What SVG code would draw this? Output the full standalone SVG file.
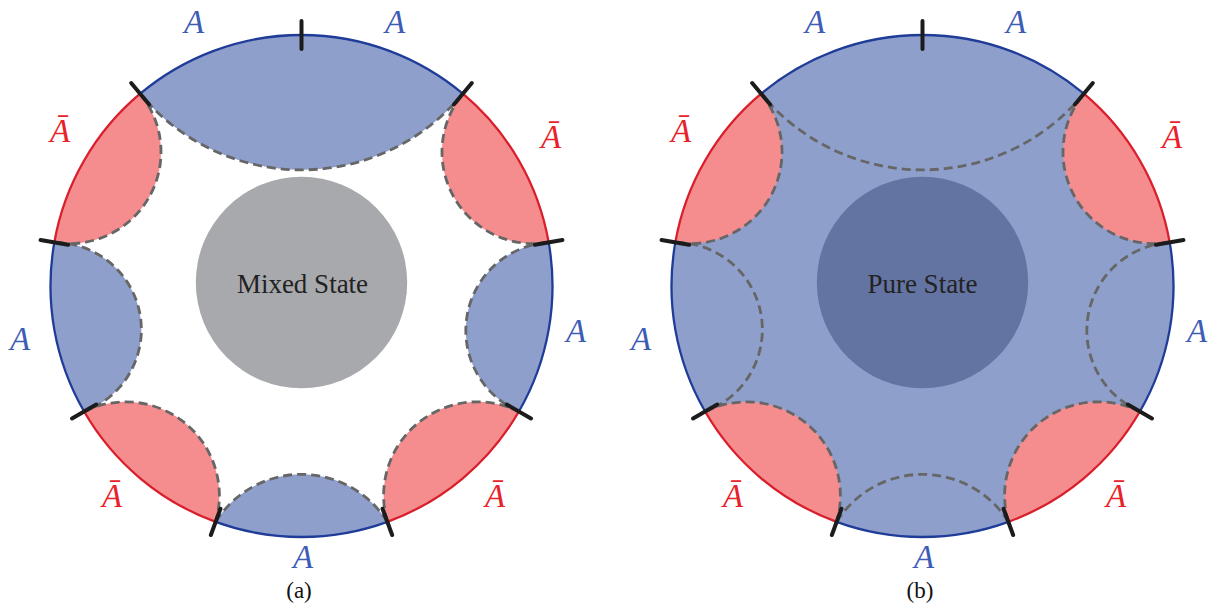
<svg xmlns="http://www.w3.org/2000/svg" xmlns:xlink="http://www.w3.org/1999/xlink" width="1211" height="604" viewBox="0 0 1211 604">
<style>
.bl{fill:#8f9fcb;stroke:none}
.rd{fill:#f58c8e;stroke:none}
.disk{fill:#8f9fcb;stroke:none}
.dash{fill:none;stroke:#666666;stroke-width:2.8;stroke-dasharray:9 5}
.eb{fill:none;stroke:#1f3c98;stroke-width:2.3}
.er{fill:none;stroke:#d81f2b;stroke-width:2.3}
.tick{stroke:#1c1c1c;stroke-width:4;stroke-linecap:round}
.lA{font-family:'Liberation Serif','Times New Roman',serif;font-style:italic;font-size:33px;fill:#3d5cb6;text-anchor:middle}
.lB{font-family:'Liberation Serif','Times New Roman',serif;font-style:italic;font-size:33px;fill:#e8222b;text-anchor:middle}
.ctr{font-family:'Liberation Serif','Times New Roman',serif;font-size:27px;fill:#222222;text-anchor:middle}
.cap{font-family:'Liberation Serif','Times New Roman',serif;font-size:23px;fill:#111111;text-anchor:middle}
</style>
<defs>
<g id="blueLenses">
<path class="bl" d="M140.16 93.72 A251 251 0 0 1 462.84 93.72 A209 209 0 0 1 140.16 93.72 Z"/>
<path class="bl" d="M84.13 411.5 A251 251 0 0 1 54.31 242.41 A87.2 87.2 0 0 1 84.13 411.5 Z"/>
<path class="bl" d="M387.35 521.86 A251 251 0 0 1 215.65 521.86 A101.3 101.3 0 0 1 387.35 521.86 Z"/>
<path class="bl" d="M548.69 242.41 A251 251 0 0 1 518.87 411.5 A88.3 88.3 0 0 1 548.69 242.41 Z"/>
</g>
<g id="redLenses">
<path class="rd" d="M54.31 242.41 A251 251 0 0 1 140.16 93.72 A91.7 91.7 0 0 1 54.31 242.41 Z"/>
<path class="rd" d="M215.65 521.86 A251 251 0 0 1 84.13 411.5 A93.8 93.8 0 0 1 215.65 521.86 Z"/>
<path class="rd" d="M518.87 411.5 A251 251 0 0 1 387.35 521.86 A93.8 93.8 0 0 1 518.87 411.5 Z"/>
<path class="rd" d="M462.84 93.72 A251 251 0 0 1 548.69 242.41 A91.7 91.7 0 0 1 462.84 93.72 Z"/>
</g>
<g id="dashes">
<path class="dash" d="M462.84 93.72 A209 209 0 0 1 140.16 93.72"/>
<path class="dash" d="M140.16 93.72 A91.7 91.7 0 0 1 54.31 242.41"/>
<path class="dash" d="M54.31 242.41 A87.2 87.2 0 0 1 84.13 411.5"/>
<path class="dash" d="M84.13 411.5 A93.8 93.8 0 0 1 215.65 521.86"/>
<path class="dash" d="M215.65 521.86 A101.3 101.3 0 0 1 387.35 521.86"/>
<path class="dash" d="M387.35 521.86 A93.8 93.8 0 0 1 518.87 411.5"/>
<path class="dash" d="M518.87 411.5 A88.3 88.3 0 0 1 548.69 242.41"/>
<path class="dash" d="M548.69 242.41 A91.7 91.7 0 0 1 462.84 93.72"/>
</g>
<g id="edges">
<path class="eb" d="M140.16 93.72 A251 251 0 0 1 462.84 93.72"/>
<path class="eb" d="M84.13 411.5 A251 251 0 0 1 54.31 242.41"/>
<path class="eb" d="M387.35 521.86 A251 251 0 0 1 215.65 521.86"/>
<path class="eb" d="M548.69 242.41 A251 251 0 0 1 518.87 411.5"/>
<path class="er" d="M54.31 242.41 A251 251 0 0 1 140.16 93.72"/>
<path class="er" d="M215.65 521.86 A251 251 0 0 1 84.13 411.5"/>
<path class="er" d="M518.87 411.5 A251 251 0 0 1 387.35 521.86"/>
<path class="er" d="M462.84 93.72 A251 251 0 0 1 548.69 242.41"/>
</g>
<g id="ticks">
<line class="tick" x1="301.5" y1="49" x2="301.5" y2="21"/>
<line class="tick" x1="149.16" y1="104.45" x2="131.16" y2="83"/>
<line class="tick" x1="453.84" y1="104.45" x2="471.84" y2="83"/>
<line class="tick" x1="68.1" y1="244.84" x2="40.53" y2="239.98"/>
<line class="tick" x1="534.9" y1="244.84" x2="562.47" y2="239.98"/>
<line class="tick" x1="96.25" y1="404.5" x2="72" y2="418.5"/>
<line class="tick" x1="506.75" y1="404.5" x2="531" y2="418.5"/>
<line class="tick" x1="220.44" y1="508.71" x2="210.86" y2="535.02"/>
<line class="tick" x1="382.56" y1="508.71" x2="392.14" y2="535.02"/>
</g>
<g id="labels">
<text class="lA" x="194" y="33">A</text>
<text class="lA" x="395" y="33">A</text>
<text class="lB" x="60" y="142">Ā</text>
<text class="lB" x="551" y="148">Ā</text>
<text class="lA" x="20" y="350">A</text>
<text class="lA" x="576" y="342">A</text>
<text class="lB" x="112" y="507">Ā</text>
<text class="lB" x="495" y="507">Ā</text>
<text class="lA" x="303" y="568">A</text>
</g>
</defs>

<g id="diagram-a">
<g id="a-regions">
<use xlink:href="#blueLenses" href="#blueLenses"/>
<use xlink:href="#redLenses" href="#redLenses"/>
</g>
<g id="a-connectors">
<use xlink:href="#edges" href="#edges"/>
<use xlink:href="#dashes" href="#dashes"/>
<use xlink:href="#ticks" href="#ticks"/>
</g>
<g id="a-center">
<circle cx="301.5" cy="282.5" r="105.7" fill="#a8a9ad"/>
<text class="ctr" x="302.5" y="292.5">Mixed State</text>
</g>
<g id="a-labels">
<use xlink:href="#labels" href="#labels"/>
<text class="cap" x="299" y="598">(a)</text>
</g>
</g>

<g id="diagram-b" transform="translate(621,0)">
<g id="b-regions">
<circle class="disk" cx="301.5" cy="286" r="251"/>
<use xlink:href="#redLenses" href="#redLenses"/>
</g>
<g id="b-connectors">
<use xlink:href="#dashes" href="#dashes"/>
<use xlink:href="#edges" href="#edges"/>
<use xlink:href="#ticks" href="#ticks"/>
</g>
<g id="b-center">
<circle cx="301.5" cy="282.5" r="105.7" fill="#6474a2"/>
<text class="ctr" x="301.5" y="292.5">Pure State</text>
</g>
<g id="b-labels">
<use xlink:href="#labels" href="#labels"/>
<text class="cap" x="299" y="598">(b)</text>
</g>
</g>
</svg>
